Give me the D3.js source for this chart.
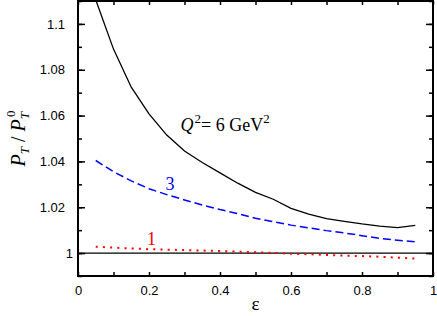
<!DOCTYPE html>
<head>
<meta charset="utf-8">
<title>P_T ratio vs epsilon</title>
<style>
body { margin: 0; background: #fff; }
.tick text { font-family: "Liberation Sans", Arial, sans-serif; font-size: 13px; fill: #000; }
</style>
</head>

<body>

<svg id="chart" width="437" height="316"></svg>

<script src="https://cdn.jsdelivr.net/npm/d3@7/dist/d3.min.js"></script>

<script>
//-----------------------------DATA-----------------------------//
// values, one point every 0.05 in epsilon
var eps = [0.05, 0.10, 0.15, 0.20, 0.25, 0.30, 0.35, 0.40, 0.45, 0.50,
           0.55, 0.60, 0.65, 0.70, 0.75, 0.80, 0.85, 0.90, 0.95];
var q6 = [1.1105, 1.0890, 1.0724, 1.0607, 1.0515, 1.0445, 1.0395, 1.0350, 1.0305, 1.0265,
          1.0235, 1.0195, 1.0170, 1.0150, 1.0138, 1.0127, 1.0118, 1.0111, 1.0121];
var q3 = [1.0404, 1.0355, 1.0315, 1.0281, 1.0255, 1.0232, 1.0210, 1.0190, 1.0172, 1.0152,
          1.0137, 1.0122, 1.0110, 1.0098, 1.0088, 1.0076, 1.0064, 1.0056, 1.0049];
var q1 = [1.0028, 1.0024, 1.0020, 1.0017, 1.0015, 1.0013, 1.0011, 1.0009, 1.0006, 1.0004,
          1.0001, 0.9997, 0.9995, 0.9992, 0.9989, 0.9987, 0.9984, 0.9980, 0.9976];

var xTicks = [0, 0.2, 0.4, 0.6, 0.8, 1];
var xTickLabels = ["0", "0.2", "0.4", "0.6", "0.8", "1"];
var yTicks = [1, 1.02, 1.04, 1.06, 1.08, 1.1];
var yTickLabels = ["1", "1.02", "1.04", "1.06", "1.08", "1.1"];

//-----------------------------SVG------------------------------//
var svg = d3.select("svg");
var margin = {top: 1, right: 4, bottom: 40, left: 78};
var width = svg.attr("width") - margin.left - margin.right;
var height = svg.attr("height") - margin.top - margin.bottom;
var g = svg.append("g").attr("transform", "translate(" + margin.left + "," + margin.top + ")");

var x = d3.scaleLinear().domain([0, 1]).range([0, width]);
var y = d3.scaleLinear().domain([0.99, 1.11]).range([height, 0]);

var line = d3.line()
    .x(function (d) { return x(d[0]); })
    .y(function (d) { return y(d[1]); });

function pairs(vals) {
    return eps.map(function (e, i) { return [e, vals[i]]; });
}

g.append("clipPath").attr("id", "clip")
    .append("rect").attr("width", width).attr("height", height);

//-----------------------------AXES-----------------------------//
var xMinor = d3.range(0, 11).map(function (i) { return i / 10; });
var yMinor = d3.range(0, 13).map(function (i) { return +(0.99 + i * 0.01).toFixed(2); });

// inward ticks on all four sides
g.append("g").attr("transform", "translate(0," + height + ")")
    .call(d3.axisBottom(x).tickValues(xMinor).tickSize(-4).tickFormat(""));
g.append("g")
    .call(d3.axisTop(x).tickValues(xMinor).tickSize(-4).tickFormat(""));
g.append("g")
    .call(d3.axisLeft(y).tickValues(yMinor).tickSize(-4).tickFormat(""));
g.append("g").attr("transform", "translate(" + width + ",0)")
    .call(d3.axisRight(y).tickValues(yMinor).tickSize(-4).tickFormat(""));
var yLabels = g.append("g")
    .call(d3.axisLeft(y).tickValues(yTicks).tickSize(-7).tickPadding(13)
        .tickFormat(function (d, i) { return yTickLabels[i]; }));
g.append("g").attr("transform", "translate(" + width + ",0)")
    .call(d3.axisRight(y).tickValues(yTicks).tickSize(-7).tickFormat(""));
g.append("g").attr("transform", "translate(0," + height + ")")
    .call(d3.axisBottom(x).tickValues(xTicks).tickSize(0).tickPadding(10)
        .tickFormat(function (d, i) { return xTickLabels[i]; }));

g.selectAll(".domain").remove();
g.selectAll(".tick line").attr("stroke", "#000").attr("stroke-width", 1.5);
// the "1" label sits further right in the original
yLabels.selectAll(".tick text").filter(function (d) { return d === 1; }).attr("x", -5);

//----------------------------LINES-----------------------------//
var lines = g.append("g").attr("clip-path", "url(#clip)");

lines.append("line")
    .attr("x1", 0).attr("x2", width)
    .attr("y1", y(1)).attr("y2", y(1))
    .attr("stroke", "#000").attr("stroke-width", 1.4);

lines.append("path")
    .attr("d", line(pairs(q6)))
    .attr("fill", "none").attr("stroke", "#000").attr("stroke-width", 1.3);

lines.append("path")
    .attr("d", line(pairs(q3)))
    .attr("fill", "none").attr("stroke", "#0000ff").attr("stroke-width", 1.5)
    .attr("stroke-dasharray", "8,4");

lines.append("path")
    .attr("d", line(pairs(q1)))
    .attr("fill", "none").attr("stroke", "#ff0000").attr("stroke-width", 2)
    .attr("stroke-dasharray", "2,5.2");

// frame
g.append("rect")
    .attr("width", width).attr("height", height)
    .attr("fill", "none").attr("stroke", "#000").attr("stroke-width", 2);

//----------------------------LABELS----------------------------//
var serif = "'Liberation Serif', 'Times New Roman', serif";

var qlab = g.append("text")
    .attr("x", x(0.289)).attr("y", y(1.0534))
    .style("font-family", serif).style("font-size", "18px");
qlab.append("tspan").style("font-style", "italic").text("Q");
qlab.append("tspan").attr("dy", -8).attr("dx", 1).style("font-size", "13px").text("2");
qlab.append("tspan").attr("dy", 8).text("= 6 GeV");
qlab.append("tspan").attr("dy", -8).style("font-size", "13px").text("2");

g.append("text")
    .attr("x", x(0.259)).attr("y", y(1.0275))
    .attr("text-anchor", "middle")
    .style("font-family", serif).style("font-size", "18px").attr("fill", "#0000ff")
    .text("3");

g.append("text")
    .attr("x", x(0.207)).attr("y", y(1.0035))
    .attr("text-anchor", "middle")
    .style("font-family", serif).style("font-size", "18px").attr("fill", "#ff0000")
    .text("1");

svg.append("text")
    .attr("x", margin.left + width / 2).attr("y", 310)
    .attr("text-anchor", "middle")
    .style("font-family", serif).style("font-size", "19px")
    .text("\u03b5");

var ylab = svg.append("text")
    .attr("transform", "translate(25," + (margin.top + height / 2) + ") rotate(-90)")
    .attr("text-anchor", "middle")
    .style("font-family", serif).style("font-size", "20px").style("font-style", "italic");
ylab.append("tspan").text("P");
ylab.append("tspan").attr("dy", 4).style("font-size", "13px").text("T");
ylab.append("tspan").attr("dy", -4).style("font-style", "normal").text(" / ");
ylab.append("tspan").text("P");
ylab.append("tspan").attr("dy", 4).style("font-size", "13px").text("T");
ylab.append("tspan").attr("dy", -14).attr("dx", -5).style("font-size", "13px").style("font-style", "normal").text("0");
</script>
</body>
